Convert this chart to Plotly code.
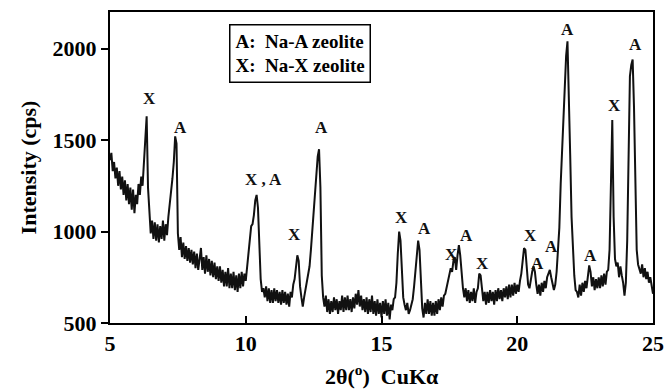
import plotly.graph_objects as go

# XRD scan: start angle, step and measured intensities (cps)
two_theta_start = 5.0
two_theta_step = 0.05
intensity = [
    1390, 1430, 1330, 1380, 1290, 1350, 1250, 1330, 1230, 1300, 1200, 1280, 1170, 1260, 1150, 1240, 1120, 1230, 1100, 1200,
    1150, 1260, 1200, 1300, 1250, 1380, 1560, 1630, 1240, 1080, 990, 1060, 960, 1050, 950, 1040, 940, 1030, 960, 1060,
    950, 1040, 980, 1080, 1140, 1210, 1290, 1380, 1520, 1480, 990, 900, 970, 860, 940, 850, 920, 840, 910, 830,
    900, 820, 890, 800, 880, 790, 870, 910, 790, 860, 770, 870, 780, 850, 760, 840, 750, 830, 740, 810,
    730, 810, 720, 790, 700, 780, 700, 800, 690, 770, 690, 780, 680, 760, 670, 770, 690, 780, 700, 770,
    730, 810, 870, 960, 1030, 1040, 1090, 1170, 1200, 1130, 880, 740, 670, 690, 640, 700, 620, 690, 610, 680,
    610, 690, 620, 680, 610, 670, 600, 680, 610, 670, 600, 660, 590, 670, 640, 710, 740, 820, 870, 840,
    700, 640, 590, 640, 680, 710, 750, 810, 900, 1010, 1090, 1200, 1330, 1410, 1450, 1240, 760, 640, 590, 650,
    560, 630, 550, 620, 560, 640, 570, 630, 550, 620, 570, 650, 560, 640, 570, 650, 570, 630, 560, 640,
    580, 660, 600, 680, 590, 650, 570, 630, 560, 640, 550, 630, 560, 650, 550, 620, 540, 630, 550, 610,
    530, 620, 550, 630, 540, 610, 520, 600, 570, 630, 640, 720, 880, 1000, 950, 760, 640, 600, 570, 610,
    550, 570, 600, 630, 700, 790, 890, 950, 900, 700, 580, 530, 610, 550, 630, 550, 620, 540, 610, 540,
    620, 550, 630, 570, 640, 590, 650, 660, 700, 740, 770, 800, 780, 840, 860, 790, 870, 925, 870, 760,
    690, 640, 690, 620, 680, 610, 670, 620, 690, 610, 670, 690, 770, 760, 680, 620, 670, 600, 670, 610,
    680, 620, 670, 600, 680, 620, 690, 630, 680, 620, 690, 640, 700, 630, 710, 640, 710, 650, 720, 660,
    710, 670, 730, 770, 840, 910, 900, 790, 710, 690, 750, 780, 810, 780, 710, 660, 710, 650, 720, 670,
    730, 690, 750, 770, 790, 750, 720, 680, 710, 780, 900, 1020, 1260, 1450, 1600, 1760, 1960, 2040, 1780, 1420,
    1080, 870, 760, 680, 670, 640, 710, 650, 720, 670, 730, 690, 770, 815, 780, 700, 750, 680, 740, 690,
    750, 690, 760, 700, 770, 710, 780, 790, 900, 1200, 1610, 1080, 850, 810, 830, 750, 810, 760, 720, 650,
    720, 950, 1350, 1850, 1910, 1940, 1680, 1300, 900, 820, 800, 770, 820, 750, 800, 740, 780, 720, 750, 690,
    660,
]
two_theta = [round(two_theta_start + i * two_theta_step, 2) for i in range(len(intensity))]

# Peak labels: (2theta, intensity level, phase)
label_x = [6.47, 7.58, 10.64, 11.81, 12.80, 15.74, 16.58, 17.58, 18.14, 18.72, 20.47, 20.74, 21.27, 21.86, 22.70, 23.60, 24.37]
label_y = [1726, 1567, 1283, 982, 1567, 1075, 1014, 872, 976, 823, 978, 823, 918, 2104, 867, 1688, 2022]
label_text = ["X", "A", "X , A", "X", "A", "X", "A", "X", "A", "X", "X", "A", "A", "A", "A", "X", "A"]

x_ticks = [5, 10, 15, 20, 25]
y_ticks = [500, 1000, 1500, 2000]

FONT = "Liberation Serif"

fig = go.Figure()
fig.add_trace(go.Scatter(
    x=two_theta, y=intensity, mode="lines",
    line=dict(color="#111111", width=2),
    showlegend=False, hoverinfo="skip",
))

for lx, ly, lt in zip(label_x, label_y, label_text):
    fig.add_annotation(x=lx, y=ly, xref="x", yref="y", text=lt, showarrow=False,
                       font=dict(family=FONT, size=17, color="#111111", weight="bold"),
                       xanchor="center", yanchor="middle")

fig.add_annotation(
    x=0.219, y=0.962, xref="paper", yref="paper", xanchor="left", yanchor="top",
    text="A:\u00a0\u00a0Na-A zeolite<br>X:\u00a0\u00a0Na-X zeolite", align="left", showarrow=False,
    font=dict(family=FONT, size=19, color="black", weight="bold"),
    bordercolor="black", borderwidth=1.5, borderpad=5, bgcolor="white",
)

# x-axis title placed below the tick labels
fig.add_annotation(
    x=0.5, y=-0.168, xref="paper", yref="paper", xanchor="center", yanchor="middle",
    text="2θ(<sup>o</sup>)\u00a0\u00a0CuKα", showarrow=False,
    font=dict(family=FONT, size=22, color="black", weight="bold"),
)

axis_common = dict(showline=True, linecolor="black", linewidth=2, mirror=True, automargin=False,
                   showgrid=False, zeroline=False, tickcolor="black", tickwidth=1.5, ticklen=7,
                   tickfont=dict(family=FONT, size=22, color="black", weight="bold"))

fig.update_layout(
    width=667, height=391,
    margin=dict(l=110, r=14, t=12, b=68),
    plot_bgcolor="white", paper_bgcolor="white",
    font=dict(family=FONT, color="black", weight="bold"),
    showlegend=False,
    xaxis=dict(range=[5, 25], tickvals=x_ticks, ticks="inside", **axis_common),
    yaxis=dict(range=[500, 2200], tickvals=y_ticks, ticks="outside",
               title=dict(text="Intensity (cps)", standoff=10,
                          font=dict(family=FONT, size=22, color="black", weight="bold")),
               **axis_common),
)

fig.write_html("out.html")
